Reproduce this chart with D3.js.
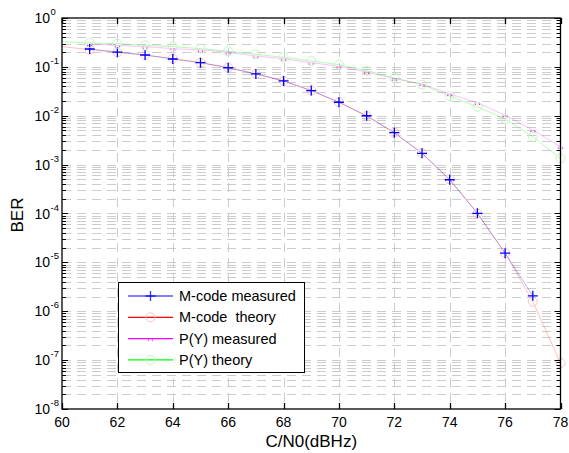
<!DOCTYPE html>
<html>
<head>
<meta charset="utf-8">
<script src="https://cdn.jsdelivr.net/npm/d3@7"></script>
<style>
  body { margin: 0; background: #fff; }
  text { font-family: Arial, "Liberation Sans", Helvetica, sans-serif; white-space: pre; }
</style>
</head>
<body>
<div id="canvas"></div>
<script>
const w = 569, h = 453;
const m = { left: 62, right: 8, top: 18, bottom: 44 };

// data
const xTicks = [60, 62, 64, 66, 68, 70, 72, 74, 76, 78];
const yExps = [0, -1, -2, -3, -4, -5, -6, -7, -8];
const cnTheory = [60, 61, 62, 63, 64, 65, 66, 67, 68, 69, 70, 71, 72, 73, 74, 75, 76, 77, 78];
const cnMeasuredM = [61, 62, 63, 64, 65, 66, 67, 68, 69, 70, 71, 72, 73, 74, 75, 76, 77];
const cnMeasuredPY = [61, 62, 63, 64, 65, 66, 67, 68, 69, 70, 71, 72, 73, 74, 75, 76, 77, 78];
const mMeasured = [0.232, 0.2, 0.175, 0.145, 0.122, 0.096, 0.0716, 0.0515, 0.0327, 0.0189, 0.01, 0.0045, 0.0017, 4.9e-4, 1.01e-4, 1.54e-5, 2.07e-6];
const mTheory = [0.26, 0.225, 0.2, 0.175, 0.148, 0.122, 0.097, 0.072, 0.0515, 0.0327, 0.0189, 0.0099, 0.0045, 0.00172, 5.0e-4, 1.0e-4, 1.55e-5, 1.58e-6, 8.7e-8];
const pyMeasured = [0.295, 0.276, 0.259, 0.236, 0.222, 0.2, 0.167, 0.147, 0.122, 0.103, 0.0787, 0.0574, 0.0447, 0.0279, 0.0185, 0.0102, 0.0051, 0.00233];
const pyTheory = [0.327, 0.308, 0.298, 0.276, 0.26, 0.236, 0.209, 0.181, 0.157, 0.132, 0.111, 0.0836, 0.0593, 0.0433, 0.0254, 0.0153, 0.0086, 0.0037, 0.00135];
const legendLabels = ["M-code measured", "M-code  theory", "P(Y) measured", "P(Y) theory"];

const svg = d3.select("#canvas").append("svg")
    .attr("width", w).attr("height", h)
    .attr("viewBox", [0, 0, w, h]);

const x = d3.scaleLinear().domain([60, 78]).range([m.left, w - m.right - 0.5]);
const y = d3.scaleLog().domain([1e-8, 1]).range([h - m.bottom, m.top]);

svg.append("rect")
    .attr("x", m.left).attr("y", m.top)
    .attr("width", x(78) - m.left).attr("height", y(1e-8) - m.top)
    .attr("fill", "#fff");

// grid
const minorVals = [];
for (let e = -8; e < 0; e++) for (let k = 1; k <= 9; k++) minorVals.push(k * Math.pow(10, e));
const grid = svg.append("g").attr("fill", "none");
grid.selectAll(".hg").data(minorVals.filter(v => v > 1e-8))
  .enter().append("line")
    .attr("x1", m.left).attr("x2", x(78))
    .attr("y1", d => Math.round(y(d)) + 0.5).attr("y2", d => Math.round(y(d)) + 0.5)
    .attr("stroke", "#cccccc")
    .attr("stroke-dasharray", "9,6");
grid.selectAll(".vg").data(xTicks.slice(1, -1))
  .enter().append("line")
    .attr("x1", d => Math.round(x(d)) + 0.5).attr("x2", d => Math.round(x(d)) + 0.5)
    .attr("y1", m.top).attr("y2", y(1e-8))
    .attr("stroke", "#cccccc")
    .attr("stroke-dasharray", "9,6");

// lines
svg.append("clipPath").attr("id", "clip").append("rect")
    .attr("x", m.left).attr("y", m.top)
    .attr("width", x(78) - m.left).attr("height", y(1e-8) - m.top);

const line = d3.line().x(d => x(d[0])).y(d => y(d[1]));
const plot = svg.append("g").attr("clip-path", "url(#clip)").attr("fill", "none");
const series = [
  { xs: cnMeasuredM, ys: mMeasured, color: "#0000ff", op: 0.3 },
  { xs: cnTheory, ys: mTheory, color: "#ff0000", op: 0.25 },
  { xs: cnMeasuredPY, ys: pyMeasured, color: "#ff00ff", op: 0.25 },
  { xs: cnTheory, ys: pyTheory, color: "#00ff00", op: 0.3 }
];
series.forEach(s => {
  plot.append("path")
      .datum(s.xs.map((v, i) => [v, s.ys[i]]))
      .attr("d", line)
      .attr("stroke", s.color)
      .attr("stroke-opacity", s.op)
      .attr("stroke-width", 1);
});

// markers
const mk = svg.append("g").attr("fill", "none");
function circleMark(g, cx, cy, col) {
  g.append("circle").attr("cx", cx).attr("cy", cy).attr("r", 4.5)
      .attr("stroke", col).attr("stroke-width", 1);
}
function plusMark(g, cx, cy, col, op) {
  g.append("path").attr("d", `M${cx - 5},${cy}H${cx + 5}M${cx},${cy - 5}V${cy + 5}`)
      .attr("stroke", col).attr("stroke-width", 1.3).attr("stroke-opacity", op);
}
function xMark(g, cx, cy) {
  [[-2, -2], [2, -2], [-2, 2], [2, 2]].forEach(o => {
    g.append("rect").attr("x", cx + o[0] - 0.6).attr("y", cy + o[1] * 0.3 + 0.4)
        .attr("width", 1.2).attr("height", 1.2).attr("fill", "#ff00ff").attr("opacity", o[1] > 0 ? 0.9 : 0.3);
  });
}
cnTheory.forEach((c, i) => { if (c > 60) circleMark(mk, x(c), y(mTheory[i]), "#f7c4c4"); });
cnMeasuredM.forEach((c, i) => plusMark(mk, x(c), y(mMeasured[i]), "#0000ff", 1));
cnMeasuredPY.forEach((c, i) => xMark(mk, x(c), y(pyMeasured[i])));
cnTheory.forEach((c, i) => { if (c > 60) circleMark(mk, x(c), y(pyTheory[i]), "#c4f4c4"); });

// axes box and ticks
const ax = svg.append("g").attr("stroke", "#000").attr("stroke-width", 1.3).attr("fill", "none");
const x0 = m.left, x1 = x(78), y0 = m.top, y1 = y(1e-8);
ax.append("rect").attr("x", x0).attr("y", y0).attr("width", x1 - x0).attr("height", y1 - y0);
xTicks.forEach(t => {
  const px = Math.round(x(t)) + 0.5;
  ax.append("line").attr("x1", px).attr("x2", px).attr("y1", y1).attr("y2", y1 - 6);
  ax.append("line").attr("x1", px).attr("x2", px).attr("y1", y0).attr("y2", y0 + 6);
});
minorVals.concat([1]).forEach(v => {
  const major = Math.abs(Math.log10(v) - Math.round(Math.log10(v))) < 1e-9;
  const len = major ? 6 : 4;
  const py = Math.round(y(v)) + 0.5;
  ax.append("line").attr("x1", x0).attr("x2", x0 + len).attr("y1", py).attr("y2", py).attr("stroke-width", 1);
  ax.append("line").attr("x1", x1).attr("x2", x1 - len).attr("y1", py).attr("y2", py).attr("stroke-width", 1);
});

// tick labels
const lab = svg.append("g").attr("fill", "#000");
xTicks.forEach(t => {
  lab.append("text").attr("x", x(t)).attr("y", y1 + 18)
      .attr("text-anchor", "middle").attr("font-size", 14).text(t);
});
yExps.forEach(e => {
  const py = y(Math.pow(10, e));
  lab.append("text").attr("x", 50).attr("y", py + 5)
      .attr("text-anchor", "end").attr("font-size", 14).text("10");
  lab.append("text").attr("x", 50.5).attr("y", py - 3)
      .attr("font-size", 9.5).text(e);
});

// axis titles
svg.append("text").attr("x", (x0 + x1) / 2).attr("y", 447)
    .attr("text-anchor", "middle").attr("font-size", 17).text("C/N0(dBHz)");
svg.append("text").attr("transform", "translate(23,215) rotate(-90)")
    .attr("text-anchor", "middle").attr("font-size", 17).text("BER");

// legend
const lg = svg.append("g");
lg.append("rect").attr("x", 118.5).attr("y", 282.5).attr("width", 186).attr("height", 90)
    .attr("fill", "#fff").attr("stroke", "#000").attr("stroke-width", 1);
const legColors = ["#0000ff", "#ff0000", "#ff00ff", "#00ff00"];
legendLabels.forEach((l, i) => {
  const ly = 296 + i * 21.3;
  lg.append("line").attr("x1", 128).attr("x2", 173).attr("y1", ly).attr("y2", ly)
      .attr("stroke", legColors[i]).attr("stroke-width", 1.2);
  if (i === 0) plusMark(lg, 150.5, ly, "#0000ff", 0.8);
  if (i === 1) circleMark(lg.append("g").attr("fill", "none"), 150.5, ly, "#f7c4c4");
  if (i === 2) xMark(lg, 150.5, ly);
  if (i === 3) circleMark(lg.append("g").attr("fill", "none"), 150.5, ly, "#c4f4c4");
  lg.append("text").attr("x", 179).attr("y", ly + 5).attr("font-size", 14.5).text(l);
});
</script>
</body>
</html>
